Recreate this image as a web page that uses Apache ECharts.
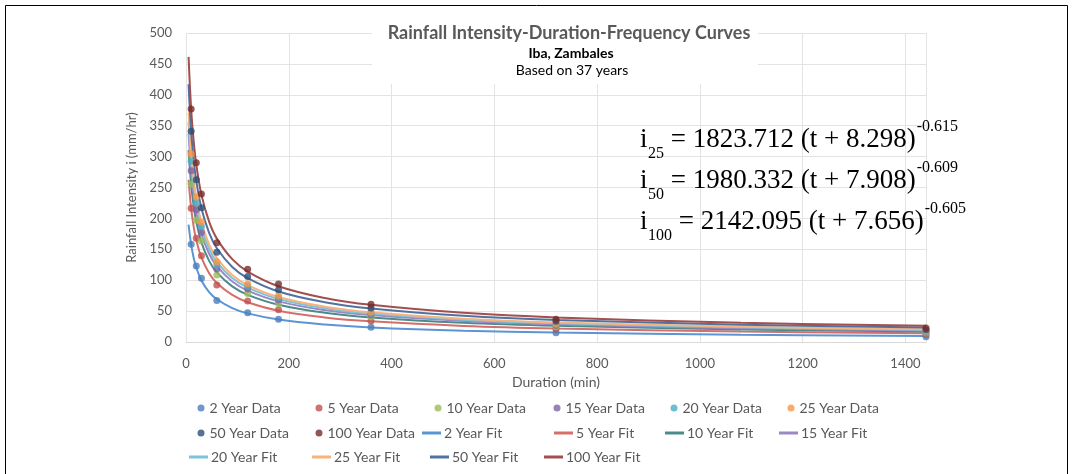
<!DOCTYPE html>
<html>
<head>
<meta charset="utf-8">
<script src="https://cdn.jsdelivr.net/npm/echarts@6/dist/echarts.min.js"></script>
<style>
  html, body { margin: 0; padding: 0; background: #fff; }
  #main { width: 1073px; height: 474px; }
</style>
</head>
<body>
<div id="main"></div>
<script>
// observed durations (min)
var durations = [10, 20, 30, 60, 120, 180, 360, 720, 1440];

// observed intensities (mm/hr) per return period
var data2   = [158, 123, 103, 67, 47.4, 36.7, 24, 15, 8.5];
var data5   = [216.6, 167.7, 139.5, 92.1, 66.2, 52.0, 33.9, 20.9, 12.3];
var data10  = [255.2, 197.1, 163.6, 108.6, 78.6, 62.1, 40.4, 24.8, 14.6];
var data15  = [277.1, 213.8, 177.3, 118.0, 85.6, 67.9, 44.1, 27.0, 16.0];
var data20  = [292.5, 225.5, 186.8, 124.5, 90.5, 71.9, 46.7, 28.5, 17.0];
var data25  = [304.4, 234.7, 194.3, 129.7, 94.3, 75.0, 48.7, 29.7, 17.7];
var data50  = [341.1, 262.6, 217.1, 145.3, 106.1, 84.6, 54.9, 33.4, 20.0];
var data100 = [377, 290, 239.5, 160.7, 117.6, 94, 61, 37, 22.5];

// fitted curves, read at these durations
var fitDurations = [5, 10, 15, 20, 30, 45, 60, 90, 120, 180, 270, 360, 540, 720, 1080, 1440];
var fit2   = [190, 158, 135.9, 120.5, 99.6, 80.8, 69.2, 54.9, 46.3, 36.3, 28.3, 23.6, 18.3, 15.3, 11.8, 9.9];
var fit5   = [262.6, 216.6, 186.3, 165.1, 136.8, 111.3, 95.4, 76.1, 64.4, 50.7, 39.8, 33.4, 26.0, 21.9, 17.0, 14.2];
var fit10  = [310.4, 255.3, 219.6, 194.6, 161.2, 131.3, 112.7, 90.0, 76.3, 60.3, 47.3, 39.8, 31.1, 26.2, 20.4, 17.1];
var fit15  = [337.6, 277.2, 238.4, 211.3, 175.2, 142.8, 122.6, 97.9, 83.1, 65.7, 51.6, 43.5, 34.0, 28.6, 22.4, 18.8];
var fit20  = [356.6, 292.6, 251.6, 223.0, 184.9, 150.7, 129.4, 103.5, 87.9, 69.5, 54.6, 46.0, 36.0, 30.3, 23.7, 19.9];
var fit25  = [371.5, 305.3, 263.0, 233.4, 193.9, 158.1, 135.8, 108.5, 92.1, 72.8, 57.2, 48.1, 37.7, 31.7, 24.7, 20.8];
var fit50  = [417.1, 341.6, 294.1, 260.8, 216.4, 176.6, 151.7, 121.4, 103.2, 81.6, 64.3, 54.2, 42.5, 35.8, 28.0, 23.5];
var fit100 = [461.3, 377.2, 324.4, 287.4, 238.5, 194.7, 167.3, 134.0, 114.0, 90.3, 71.2, 60.1, 47.2, 39.8, 31.2, 26.2];

var periods = ['2', '5', '10', '15', '20', '25', '50', '100'];

// equations shown on the chart
var eqSubs   = ['25', '50', '100'];
var eqBodies = [' = 1823.712 (t + 8.298)', ' = 1980.332 (t + 7.908)', ' = 2142.095 (t + 7.656)'];
var eqSups   = ['-0.615', '-0.609', '-0.605'];

var observed = [data2, data5, data10, data15, data20, data25, data50, data100];
var fitted   = [fit2, fit5, fit10, fit15, fit20, fit25, fit50, fit100];

var dataColors = ['#4a7ebb', '#c0504d', '#9bbb59', '#8064a2', '#4bacc6', '#f79646', '#2c4d75', '#772c2a'];
var fitColors  = ['#5b95d3', '#d46f6c', '#4d8a8a', '#9a88c4', '#7cc3dc', '#f7b37c', '#4f72a2', '#a24f4e'];

var gray = '#595959';
var font = 'Lato, "Noto Sans", sans-serif';

var series = [];
periods.forEach(function (p, k) {
  series.push({
    name: p + ' Year Data',
    type: 'scatter',
    data: durations.map(function (t, j) { return [t, observed[k][j]]; }),
    symbolSize: 7,
    itemStyle: { color: dataColors[k] },
    z: 4
  });
});
periods.forEach(function (p, k) {
  series.push({
    name: p + ' Year Fit',
    type: 'line',
    data: fitDurations.map(function (t, j) { return [t, fitted[k][j]]; }),
    smooth: 0.4,
    symbol: 'none',
    showSymbol: false,
    lineStyle: { width: 2, color: fitColors[k] },
    itemStyle: { color: fitColors[k] },
    z: 3
  });
});

// legend: one small legend per item, laid out like the original grid
var legendNames = series.map(function (s) { return s.name; });
var legendSpots = [
  [201, 408], [319, 408], [438, 408], [557, 408], [674, 408], [791, 408],
  [201, 433], [319, 433], [422, 433], [554, 433], [665, 433], [779, 433],
  [189, 457], [312, 457], [430, 457], [544, 457]
];
var legends = legendSpots.map(function (s, i) {
  var isFit = legendNames[i].indexOf('Fit') > 0;
  return {
    data: [{ name: legendNames[i], icon: isFit ? 'rect' : 'circle' }],
    left: isFit ? s[0] : s[0] - 3.5,
    top: s[1] - 8,
    padding: 0,
    itemWidth: isFit ? 19 : 7,
    itemHeight: isFit ? 3 : 7,
    itemGap: 0,
    selectedMode: false,
    textStyle: { fontSize: 14, color: gray, fontFamily: font, lineHeight: 16, padding: [0, 0, 0, isFit ? -2 : 0] }
  };
});

// equation text pieces
var ctx = document.createElement('canvas').getContext('2d');
function textW(str, size) {
  ctx.font = size + 'px "Liberation Serif"';
  return ctx.measureText(str).width;
}
var eqGraphics = [];
var eqBase = [150, 191, 232];
eqBodies.forEach(function (body, i) {
  var x = 640, y = eqBase[i];
  var big = 27, small = 16;
  var ff = '"Liberation Serif", "Times New Roman", serif';
  eqGraphics.push({ type: 'text', left: x, top: y - big * 0.89, z: 10,
    style: { text: 'i', font: big + 'px ' + ff, fill: '#000' } });
  var xs = x + textW('i', big) + 0.5;
  eqGraphics.push({ type: 'text', left: xs, top: y + 10 - small * 0.89, z: 10,
    style: { text: eqSubs[i], font: small + 'px ' + ff, fill: '#000' } });
  var xb = xs + textW(eqSubs[i], small);
  eqGraphics.push({ type: 'text', left: xb, top: y - big * 0.89, z: 10,
    style: { text: body, font: big + 'px ' + ff, fill: '#000' } });
  var xp = xb + textW(body, big) + 1;
  eqGraphics.push({ type: 'text', left: xp, top: y - 17 - small * 0.89, z: 10,
    style: { text: eqSups[i], font: small + 'px ' + ff, fill: '#000' } });
});

var chart = echarts.init(document.getElementById('main'), null, { renderer: 'canvas' });
chart.setOption({
  animation: false,
  backgroundColor: '#fff',
  title: [
    { text: 'Rainfall Intensity-Duration-Frequency Curves', left: 564, top: 19, textAlign: 'center',
      textStyle: { fontSize: 18, fontWeight: 'bold', color: gray, fontFamily: font } },
    { text: 'Iba, Zambales', left: 566, top: 41, textAlign: 'center',
      textStyle: { fontSize: 14, fontWeight: 'bold', color: '#000', fontFamily: font } },
    { text: 'Based on 37 years', left: 567, top: 58, textAlign: 'center',
      textStyle: { fontSize: 14, fontWeight: 'normal', color: '#000', fontFamily: font } }
  ],
  legend: legends,
  grid: { left: 186, right: 147, top: 33, bottom: 132, containLabel: false },
  xAxis: {
    type: 'value', min: 0, max: 1440, interval: 200,
    name: 'Duration (min)', nameLocation: 'middle', nameGap: 33,
    nameTextStyle: { fontSize: 14, color: gray, fontFamily: font },
    axisLine: { show: true, lineStyle: { color: '#d9d9d9' } },
    axisTick: { show: false },
    axisLabel: { fontSize: 13, color: gray, fontFamily: font, margin: 15, showMaxLabel: false,
      formatter: function (v) { return String(v); } },
    splitLine: { show: true, lineStyle: { color: '#e3e3e3' } }
  },
  yAxis: {
    type: 'value', min: 0, max: 500, interval: 50,
    name: 'Rainfall Intensity i (mm/hr)', nameLocation: 'middle', nameGap: 44,
    nameTextStyle: { fontSize: 13, color: gray, fontFamily: font },
    axisLine: { show: false },
    axisTick: { show: false },
    axisLabel: { fontSize: 13, color: gray, fontFamily: font, margin: 14 },
    splitLine: { show: true, lineStyle: { color: '#e3e3e3' } }
  },
  graphic: [
    { type: 'rect', shape: { x: 5.5, y: 5.5, width: 1062, height: 480 }, z: 0,
      style: { fill: 'none', stroke: '#000', lineWidth: 1 }, silent: true },
    { type: 'rect', shape: { x: 372, y: 20, width: 386, height: 64 }, z: 1,
      style: { fill: '#fff' }, silent: true }
  ].concat(eqGraphics),
  series: series
});
</script>
</body>
</html>
